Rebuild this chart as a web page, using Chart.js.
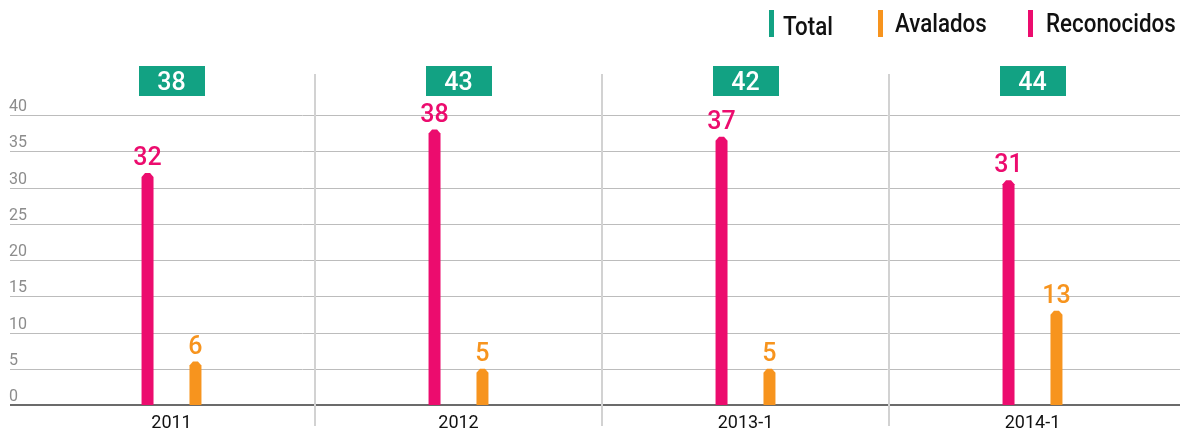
<!DOCTYPE html>
<html lang="es">
<head>
  <meta charset="UTF-8" />
  <title>Reconocidos y Avalados</title>
  <script src="https://cdn.jsdelivr.net/npm/chart.js"></script>
  <style>
    html, body { margin: 0; padding: 0; background: #fff; }
    #wrap { width: 1180px; height: 433px; position: relative; }
  </style>
</head>
<body>
  <div id="wrap"><canvas id="chart"></canvas></div>

  <script>
    // data
    const periods = ['2011', '2012', '2013-1', '2014-1'];
    const totals = [38, 43, 42, 44];
    const reconocidos = [32, 38, 37, 31];
    const avalados = [6, 5, 5, 13];
    const yTicks = { min: 0, max: 40, step: 5 };

    const GREEN = '#12a283';
    const ORANGE = '#f7941e';
    const PINK = '#ec0c6e';
    const FONT = "Roboto, 'Liberation Sans', sans-serif";

    // pointed bar tops, value labels, total boxes, separators, y grid, legend
    const decor = {
      id: 'decor',
      beforeDatasetsDraw(chart) {
        const ctx = chart.ctx;
        const x = chart.scales.x, y = chart.scales.y;
        ctx.save();
        // horizontal grid + y labels
        y.ticks.forEach(t => {
          const py = Math.round(y.getPixelForValue(t.value));
          const zero = t.value === 0;
          ctx.strokeStyle = zero ? '#6b6b6b' : '#bcbcbc';
          ctx.lineWidth = zero ? 2 : 1;
          ctx.beginPath();
          ctx.moveTo(10, zero ? py : py + 0.5);
          ctx.lineTo(chart.width, zero ? py : py + 0.5);
          ctx.stroke();
          ctx.fillStyle = '#8c8c8c';
          ctx.font = '16px ' + FONT;
          ctx.textAlign = 'left';
          ctx.textBaseline = 'alphabetic';
          ctx.fillText(String(t.value), 9, py - 4);
        });
        // vertical separators between periods
        ctx.strokeStyle = '#d2d2d2';
        ctx.lineWidth = 2;
        for (let i = 1; i < periods.length; i++) {
          const px = Math.round((x.getPixelForValue(i - 1) + x.getPixelForValue(i)) / 2);
          ctx.beginPath();
          ctx.moveTo(px, 74);
          ctx.lineTo(px, 426);
          ctx.stroke();
        }
        ctx.restore();
      },
      afterDatasetsDraw(chart) {
        const ctx = chart.ctx;
        const x = chart.scales.x;
        ctx.save();
        chart.data.datasets.forEach((ds, di) => {
          const meta = chart.getDatasetMeta(di);
          meta.data.forEach((bar, i) => {
            const { x: bx, y: by, base, width } = bar.getProps(['x', 'y', 'base', 'width'], true);
            const h = width / 2;
            ctx.fillStyle = ds.barColor;
            ctx.beginPath();
            ctx.moveTo(bx - h, base);
            ctx.lineTo(bx - h, by + 4);
            ctx.lineTo(bx - 2.5, by);
            ctx.lineTo(bx + 2.5, by);
            ctx.lineTo(bx + h, by + 4);
            ctx.lineTo(bx + h, base);
            ctx.closePath();
            ctx.fill();
            ctx.font = '500 25px ' + FONT;
            ctx.textAlign = 'center';
            ctx.textBaseline = 'alphabetic';
            ctx.fillText(String(ds.data[i]), bx, by - 8);
          });
        });
        // total boxes
        totals.forEach((v, i) => {
          const cx = x.getPixelForValue(i);
          ctx.fillStyle = GREEN;
          ctx.fillRect(Math.round(cx - 33), 66, 66, 30);
          ctx.fillStyle = '#fff';
          ctx.font = '500 25px ' + FONT;
          ctx.textAlign = 'center';
          ctx.textBaseline = 'alphabetic';
          ctx.fillText(String(v), cx, 90);
        });
        // legend (condensed by squeezing the text horizontally)
        const items = [
          { label: 'Total', color: GREEN, mx: 769, tx: 783, base: 35 },
          { label: 'Avalados', color: ORANGE, mx: 878, tx: 895, base: 32 },
          { label: 'Reconocidos', color: PINK, mx: 1028, tx: 1046, base: 32 }
        ];
        items.forEach(it => {
          ctx.fillStyle = it.color;
          ctx.fillRect(it.mx, 10, 5, 27);
          ctx.fillStyle = '#111';
          ctx.font = '500 26px ' + FONT;
          ctx.textAlign = 'left';
          ctx.textBaseline = 'alphabetic';
          ctx.save();
          ctx.translate(it.tx, it.base);
          ctx.scale(0.86, 1);
          ctx.fillText(it.label, 0, 0);
          ctx.restore();
        });
        ctx.restore();
      }
    };

    new Chart(document.getElementById('chart'), {
      type: 'bar',
      data: {
        labels: periods,
        datasets: [
          { label: 'Reconocidos', data: reconocidos, barColor: PINK, backgroundColor: 'rgba(0,0,0,0)' },
          { label: 'Avalados', data: avalados, barColor: ORANGE, backgroundColor: 'rgba(0,0,0,0)' }
        ]
      },
      options: {
        responsive: true,
        maintainAspectRatio: false,
        animation: false,
        categoryPercentage: 0.334,
        barPercentage: 0.25,
        layout: { padding: { left: 28, right: 4, top: 115, bottom: -8 } },
        plugins: { legend: { display: false }, tooltip: { enabled: false } },
        scales: {
          x: {
            grid: { display: false, drawTicks: false },
            border: { display: false },
            ticks: {
              color: '#111',
              padding: 9,
              font: { family: FONT, size: 18, lineHeight: 1 }
            }
          },
          y: {
            display: false,
            min: yTicks.min,
            max: yTicks.max,
            ticks: { stepSize: yTicks.step }
          }
        }
      },
      plugins: [decor]
    });
  </script>
</body>
</html>
